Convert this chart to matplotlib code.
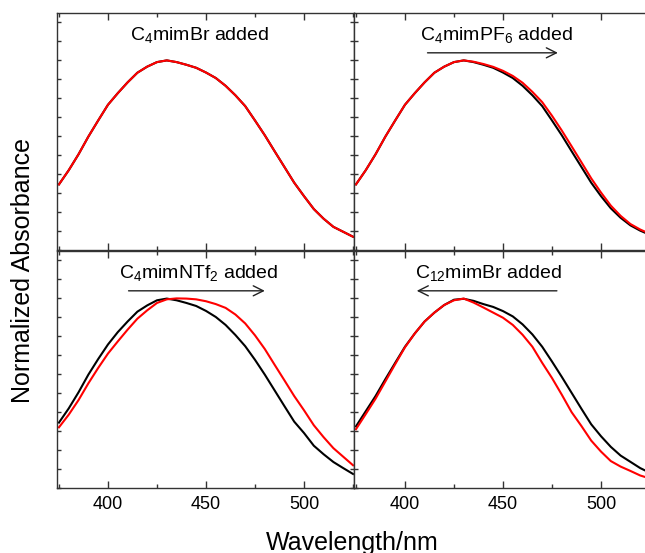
import numpy as np
import matplotlib
matplotlib.use("Agg")
import matplotlib.pyplot as plt
from matplotlib.ticker import MultipleLocator

plt.rcParams['font.family'] = ['Liberation Sans', 'DejaVu Sans']
plt.rcParams['mathtext.fontset'] = 'custom'
plt.rcParams['mathtext.rm'] = 'Liberation Sans'
plt.rcParams['mathtext.it'] = 'Liberation Sans:italic'
plt.rcParams['mathtext.bf'] = 'Liberation Sans:bold'

wavelength = list(range(375, 526, 5))

# Panel 1: C4mimBr added
p1_black = [0.346, 0.421, 0.505, 0.598, 0.683, 0.766, 0.827, 0.884, 0.935, 0.967, 0.991,
            1.0, 0.991, 0.977, 0.961, 0.936, 0.907, 0.866, 0.816, 0.759, 0.683, 0.605,
            0.521, 0.438, 0.355, 0.284, 0.216, 0.165, 0.122, 0.096, 0.07]
p1_red = [0.346, 0.421, 0.505, 0.598, 0.683, 0.766, 0.827, 0.884, 0.935, 0.967, 0.991,
          1.0, 0.991, 0.977, 0.961, 0.936, 0.907, 0.866, 0.816, 0.759, 0.683, 0.605,
          0.521, 0.438, 0.355, 0.284, 0.216, 0.165, 0.122, 0.096, 0.07]

# Panel 2: C4mimPF6 added
p2_black = [0.346, 0.421, 0.505, 0.598, 0.683, 0.766, 0.827, 0.884, 0.935, 0.967, 0.991,
            1.0, 0.991, 0.977, 0.961, 0.936, 0.907, 0.866, 0.816, 0.759, 0.683, 0.605,
            0.521, 0.438, 0.355, 0.284, 0.22, 0.17, 0.13, 0.102, 0.08]
p2_red = [0.346, 0.421, 0.505, 0.598, 0.683, 0.766, 0.827, 0.884, 0.935, 0.967, 0.991,
          1.0, 0.993, 0.981, 0.966, 0.945, 0.918, 0.882, 0.834, 0.78, 0.708, 0.63,
          0.547, 0.463, 0.378, 0.303, 0.234, 0.18, 0.137, 0.108, 0.085]

# Panel 3: C4mimNTf2 added
p3_black = [0.345, 0.42, 0.505, 0.598, 0.68, 0.757, 0.822, 0.878, 0.93, 0.963, 0.99,
            0.999, 0.99, 0.976, 0.96, 0.934, 0.902, 0.86, 0.807, 0.748, 0.676, 0.598,
            0.515, 0.432, 0.35, 0.29, 0.223, 0.178, 0.137, 0.105, 0.074]
p3_red = [0.32, 0.387, 0.464, 0.552, 0.633, 0.709, 0.773, 0.835, 0.893, 0.937, 0.976,
          0.995, 1.0, 0.999, 0.995, 0.985, 0.97, 0.95, 0.915, 0.868, 0.805, 0.733,
          0.65, 0.568, 0.485, 0.41, 0.331, 0.268, 0.21, 0.165, 0.12]

# Panel 4: C12mimBr added
p4_black = [0.325, 0.405, 0.485, 0.574, 0.66, 0.745, 0.815, 0.878, 0.925, 0.965, 0.993,
            0.998, 0.987, 0.97, 0.955, 0.933, 0.905, 0.863, 0.81, 0.745, 0.667, 0.586,
            0.502, 0.418, 0.336, 0.273, 0.217, 0.171, 0.138, 0.105, 0.08]
p4_red = [0.31, 0.39, 0.471, 0.562, 0.653, 0.742, 0.815, 0.878, 0.925, 0.965, 0.99,
          0.999, 0.978, 0.952, 0.925, 0.898, 0.86, 0.808, 0.745, 0.66, 0.58, 0.492,
          0.4, 0.327, 0.25, 0.192, 0.142, 0.113, 0.09, 0.066, 0.05]

titles = [r"C$_4$mimBr added", r"C$_4$mimPF$_6$ added",
          r"C$_4$mimNTf$_2$ added", r"C$_{12}$mimBr added"]
# arrow (start, end) in wavelength; None = no arrow
arrows = [None, (411.5, 478.0), (410.5, 480.0), (477.5, 406.0)]
xticks = [400, 450, 500]

series = [(p1_black, p1_red), (p2_black, p2_red), (p3_black, p3_red), (p4_black, p4_red)]

fig = plt.figure(figsize=(6.45, 5.53), dpi=100)
left = 57 / 645
w = 297 / 645
top = 1 - 13 / 553
mid = 1 - 250 / 553
bot = 1 - 488 / 553
h = top - mid
positions = [(left, mid, w, h), (left + w, mid, w, h),
             (left, bot, w, h), (left + w, bot, w, h)]

for i, (pos, (blk, red)) in enumerate(zip(positions, series)):
    ax = fig.add_axes(pos)
    ax.plot(wavelength, blk, color='black', lw=1.5, solid_joinstyle='round')
    ax.plot(wavelength, red, color='#ff0000', lw=1.5, solid_joinstyle='round')
    ax.set_xlim(374, 525.5)
    ax.set_ylim(0, 1.25)
    ax.xaxis.set_major_locator(MultipleLocator(50))
    ax.xaxis.set_minor_locator(MultipleLocator(25))
    ax.yaxis.set_major_locator(MultipleLocator(0.1))
    ax.tick_params(axis='both', which='both', direction='in', top=True, right=True,
                   left=True, bottom=True, labelleft=False, color='#333333')
    ax.tick_params(which='major', length=5, width=1)
    ax.tick_params(axis='x', which='minor', length=3, width=1)
    ax.tick_params(axis='y', which='major', length=3, width=1)
    ax.set_xticks(xticks)
    if i < 2:
        ax.tick_params(labelbottom=False)
    else:
        ax.tick_params(axis='x', labelsize=13, pad=6)
    for s in ax.spines.values():
        s.set_color('#333333')
        s.set_linewidth(1.0)
    ax.text(446.5 if i != 3 else 442.5, 1.135, titles[i], ha='center', va='center',
            fontsize=14)
    if arrows[i] is not None:
        a0, a1 = arrows[i]
        ax.annotate('', xy=(a1, 1.04), xytext=(a0, 1.04),
                    arrowprops=dict(arrowstyle='->', color='#222222', lw=1.0,
                                    mutation_scale=18, shrinkA=0, shrinkB=0))

fig.text(352 / 645, 1 - 550 / 553, 'Wavelength/nm', ha='center', va='baseline', fontsize=18)
fig.text(23 / 645, 1 - 270 / 553, 'Normalized Absorbance', ha='center', va='center',
         rotation=90, fontsize=18)

fig.savefig('out.png', dpi=100)
